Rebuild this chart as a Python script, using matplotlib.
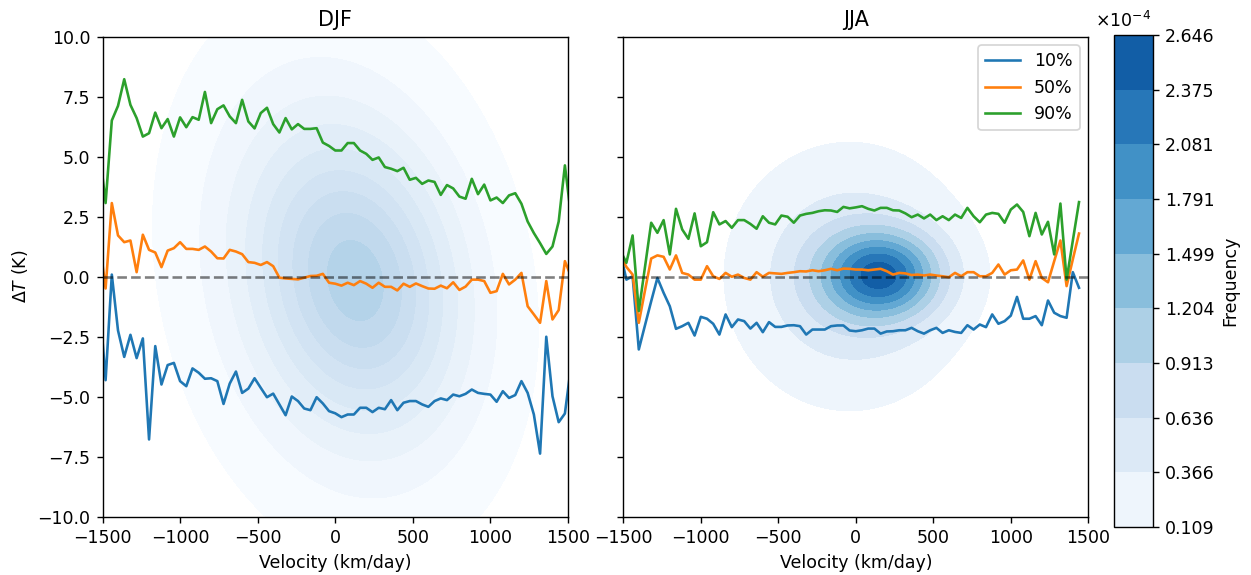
import numpy as np
import matplotlib
matplotlib.use("Agg")
import matplotlib.pyplot as plt
from matplotlib.colors import Normalize

# ---------------- data ----------------
velocity = np.arange(-1520, 1521, 40)  # bin centres (km/day)

djf_p10 = [-1.0, -4.32, 0.08, -2.25, -3.35, -2.43, -3.4, -2.58, -6.79, -2.9, -4.5,
           -3.69, -3.6, -4.36, -4.57, -3.83, -4.01, -4.26, -4.24, -4.36, -5.31,
           -4.46, -3.96, -4.85, -4.67, -4.24, -4.64, -5.03, -4.88, -5.33, -5.78,
           -5.0, -5.19, -5.5, -5.57, -5.03, -5.29, -5.61, -5.7, -5.86, -5.75,
           -5.75, -5.47, -5.47, -5.65, -5.47, -5.53, -5.15, -5.57, -5.26, -5.19,
           -5.19, -5.33, -5.43, -5.19, -5.08, -5.15, -4.92, -4.99, -4.89, -4.71,
           -4.85, -4.89, -4.92, -5.22, -4.78, -5.06, -4.94, -4.36, -4.85, -5.75,
           -7.38, -2.51, -4.99, -6.07, -5.71, -3.71]
djf_p50 = [1.5, -0.5, 3.06, 1.71, 1.43, 1.5, 0.18, 1.74, 1.11, 1.0, 0.39,
           1.08, 1.18, 1.43, 1.15, 1.15, 1.11, 1.25, 1.04, 0.76, 0.75,
           1.11, 1.04, 0.93, 0.6, 0.57, 0.48, 0.6, 0.43, -0.05, -0.08,
           -0.1, -0.12, -0.05, 0.02, 0.03, 0.11, -0.26, -0.3, -0.38, -0.26,
           -0.36, -0.19, -0.3, -0.47, -0.26, -0.43, -0.43, -0.58, -0.3, -0.43,
           -0.29, -0.4, -0.5, -0.51, -0.38, -0.49, -0.24, -0.56, -0.42, -0.13,
           -0.13, -0.19, -0.68, -0.61, 0.11, -0.33, -0.13, 0.15, -1.24, -1.58,
           -1.93, -0.19, -1.79, -1.4, 0.64, 0.0]
djf_p90 = [5.3, 3.06, 6.5, 7.11, 8.22, 7.15, 6.6, 5.83, 5.97, 6.83, 6.18,
           6.56, 5.83, 6.63, 6.22, 6.64, 6.53, 7.69, 6.39, 6.97, 7.13,
           6.67, 6.39, 7.36, 6.46, 6.17, 6.81, 7.03, 6.35, 6.0, 6.6,
           6.13, 6.35, 6.15, 6.15, 6.18, 5.58, 5.44, 5.25, 5.25, 5.56,
           5.56, 5.25, 5.11, 4.86, 4.96, 4.56, 4.49, 4.39, 4.53, 4.03,
           4.11, 3.86, 4.0, 3.94, 3.40, 3.81, 3.67, 3.33, 3.24, 4.07,
           3.43, 3.83, 3.17, 3.29, 3.06, 3.38, 3.47, 3.03, 2.29, 1.81,
           1.39, 0.94, 1.25, 2.29, 4.63, 2.49]

nan = np.nan
jja_p10 = [1.0, -0.13, 0.01, -3.04, -2.03, -1.03, -0.06, -0.68, -1.24, -2.18, -2.07,
           -1.93, -2.46, -1.68, -1.76, -1.97, -2.42, -1.58, -2.11, -1.79, -1.86,
           -2.17, -1.93, -2.32, -1.9, -2.1, -2.1, -2.04, -2.03, -2.07, -2.42,
           -2.21, -2.21, -2.21, -2.07, -2.04, -2.04, -2.25, -2.28, -2.24, -2.17,
           -2.17, -2.38, -2.29, -2.28, -2.24, -2.24, -2.14, -2.28, -2.38, -2.24,
           -2.14, -2.35, -2.24, -2.31, -2.35, -2.03, -2.21, -2.0, -2.11, -1.58,
           -1.97, -1.86, -1.63, -0.85, -1.76, -1.76, -1.65, -2.03, -1.0, -1.51,
           -1.65, -1.72, 0.18, -0.47, nan, nan]
jja_p50 = [0.88, 0.4, 0.08, -1.93, -0.58, 0.75, 0.88, 0.82, 0.29, 0.88, 0.15,
           0.08, -0.13, -0.13, 0.43, 0.01, -0.1, 0.15, -0.01, 0.08, -0.06,
           -0.13, 0.18, -0.01, 0.15, 0.13, 0.11, 0.15, 0.18, 0.22, 0.21,
           0.26, 0.22, 0.26, 0.32, 0.26, 0.33, 0.32, 0.29, 0.29, 0.26,
           0.29, 0.32, 0.22, 0.08, 0.15, 0.13, 0.06, 0.08, 0.04, 0.08,
           0.04, 0.01, -0.03, 0.15, 0.01, 0.18, 0.18, 0.01, 0.01, 0.15,
           0.5, 0.08, 0.26, 0.29, 0.67, -0.13, 0.64, -0.06, -0.24, 0.64,
           1.5, -0.4, 0.71, 1.79, nan, nan]
jja_p90 = [1.1, 0.57, 1.71, -1.44, 0.4, 2.24, 1.82, 2.35, 0.92, 2.82, 1.96,
           1.57, 2.63, 1.26, 1.43, 2.68, 2.17, 2.31, 2.03, 2.35, 2.35,
           2.19, 1.99, 2.51, 2.24, 2.17, 2.54, 2.49, 2.24, 2.54, 2.61,
           2.65, 2.72, 2.76, 2.75, 2.69, 2.9, 2.84, 2.88, 2.93, 2.82,
           2.75, 2.86, 2.86, 2.76, 2.75, 2.63, 2.47, 2.58, 2.42, 2.58,
           2.35, 2.51, 2.35, 2.58, 2.44, 2.86, 2.51, 2.26, 2.58, 2.65,
           2.61, 2.24, 2.79, 3.0, 2.69, 1.68, 2.65, 1.75, 2.28, 0.92,
           3.04, -0.13, 1.49, 3.1, nan, nan]

series_labels = ["10%", "50%", "90%"]
series_colors = ["#1f77b4", "#ff7f0e", "#2ca02c"]

# density contour levels (Frequency, x1e-4)
jja_levels = [0.109, 0.366, 0.636, 0.913, 1.204, 1.499, 1.791, 2.081, 2.375, 2.646]
djf_levels = [0.043, 0.145, 0.253, 0.363, 0.478, 0.595, 0.711, 0.826, 0.943, 1.05]

# density shape parameters: [peak(x1e-4), x0, y0, sigma_x, sigma_y, tilt(km/day per K)]
djf_halo = [0.63, 50, 0.0, 520, 5.2, -18]
djf_core = [0.40, 200, -0.3, 380, 3.5, -18]
jja_halo = [0.70, -40, 0.0, 420, 2.9, 0]
jja_core = [1.95, 170, 0.05, 250, 1.2, 0]


def blob(X, Y, p):
    peak, x0, y0, sx, sy, tilt = p
    dx = X - x0 - tilt * (Y - y0)
    dy = Y - y0
    return peak * 1e-4 * np.exp(-0.5 * ((dx / sx) ** 2 + (dy / sy) ** 2))


xg = np.linspace(-1650, 1650, 331)
yg = np.linspace(-11, 11, 221)
XG, YG = np.meshgrid(xg, yg)
dens_djf = blob(XG, YG, djf_halo) + blob(XG, YG, djf_core)
dens_jja = blob(XG, YG, jja_halo) + blob(XG, YG, jja_core)

# ---------------- figure ----------------
fig = plt.figure(figsize=(1251 / 125, 575 / 125), dpi=125)
ax1 = fig.add_axes([102.5 / 1251, 1 - 516.5 / 575, 465.5 / 1251, 480 / 575])
ax2 = fig.add_axes([623.3 / 1251, 1 - 516.5 / 575, 465.0 / 1251, 480 / 575], sharey=ax1)
cax = fig.add_axes([1114 / 1251, 1 - 527 / 575, 38.5 / 1251, 492 / 575])

norm = Normalize(vmin=0.09e-4, vmax=3.04e-4)
cmap = plt.get_cmap("Blues")

ax1.contourf(XG, YG, dens_djf, levels=np.array(djf_levels) * 1e-4, cmap=cmap, norm=norm)
cs = ax2.contourf(XG, YG, dens_jja, levels=np.array(jja_levels) * 1e-4, cmap=cmap, norm=norm)

for ax, title, sets in [(ax1, "DJF", (djf_p10, djf_p50, djf_p90)),
                        (ax2, "JJA", (jja_p10, jja_p50, jja_p90))]:
    for vals, lab, col in zip(sets, series_labels, series_colors):
        ax.plot(velocity, vals, color=col, lw=1.5, label=lab)
    ax.axhline(0, color="k", ls="--", lw=1.5, alpha=0.5, zorder=5)
    ax.set_xlim(-1500, 1500)
    ax.set_ylim(-10, 10)
    ax.set_title(title, fontsize=12)
    ax.set_xlabel("Velocity (km/day)")
    ax.set_xticks([-1500, -1000, -500, 0, 500, 1000, 1500])

ax1.set_yticks([-10, -7.5, -5, -2.5, 0, 2.5, 5, 7.5, 10])
ax1.set_yticklabels(["−10.0", "−7.5", "−5.0", "−2.5", "0.0", "2.5", "5.0", "7.5", "10.0"])
ax1.set_ylabel(r"$\Delta T$ (K)")
plt.setp(ax2.get_yticklabels(), visible=False)
ax2.legend(loc="upper right")

cbar = fig.colorbar(cs, cax=cax)
cbar.set_ticks(np.array(jja_levels) * 1e-4)
cbar.set_ticklabels([f"{v:.3f}" for v in jja_levels])
cbar.set_label("Frequency")
cax.text(0.95, 1.008, r"$\times10^{-4}$", transform=cax.transAxes, ha="right", va="bottom", fontsize=10)

fig.savefig("out.png", dpi=125)
